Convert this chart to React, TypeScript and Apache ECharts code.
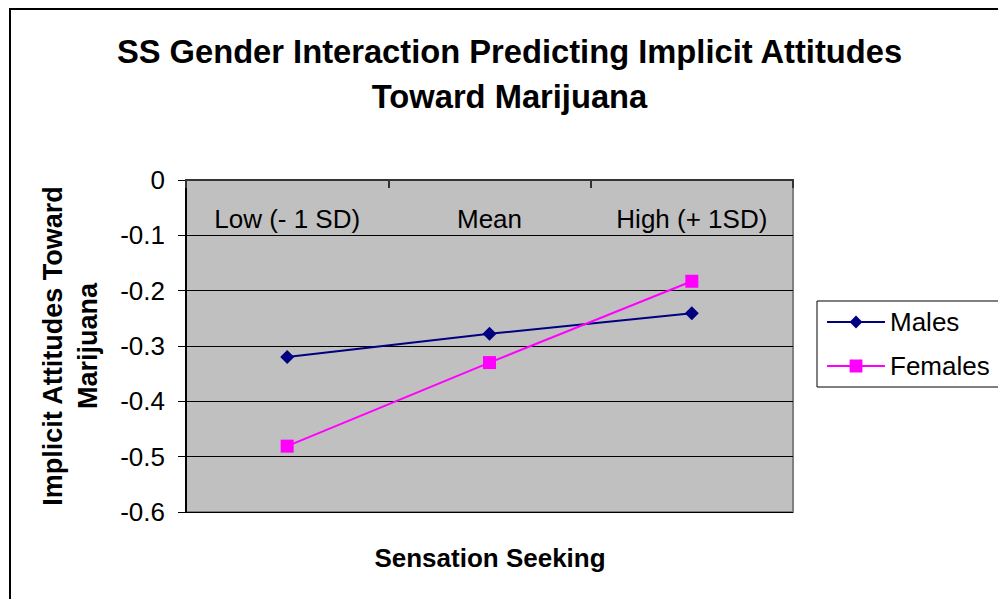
import React, { useEffect, useRef } from "react";
import * as echarts from "echarts";

const titleText = "SS Gender Interaction Predicting Implicit Attitudes\nToward Marijuana";
const categories = ["Low (- 1 SD)", "Mean", "High (+ 1SD)"];
const malesValues = [-0.320, -0.278, -0.241];
const femalesValues = [-0.481, -0.330, -0.183];
const yMin = -0.6;
const yMax = 0;
const yInterval = 0.1;
const xAxisTitle = "Sensation Seeking";
const yAxisTitle = "Implicit Attitudes Toward\nMarijuana";

const FONT = "'Liberation Sans', Arial, sans-serif";

export default function App() {
  const ref = useRef<HTMLDivElement>(null);
  useEffect(() => {
    if (!ref.current) return;
    const chart = echarts.init(ref.current, undefined, { renderer: "svg" });
    chart.setOption({
      animation: false,
      backgroundColor: "#ffffff",
      textStyle: { fontFamily: FONT },
      title: {
        text: titleText,
        left: 509.5,
        top: 29,
        textAlign: "center",
        padding: 0,
        textStyle: {
          fontFamily: FONT,
          fontSize: 32.7,
          fontWeight: "bold",
          color: "#000",
          lineHeight: 45,
        },
      },
      legend: {
        orient: "vertical",
        left: 817,
        top: 301,
        padding: [8, 60, 8, 9],
        borderColor: "#000",
        borderWidth: 1,
        backgroundColor: "#fff",
        itemWidth: 58,
        itemHeight: 16,
        itemGap: 18,
        textStyle: { fontFamily: FONT, fontSize: 26, color: "#000", lineHeight: 26 },
        data: ["Males", "Females"],
      },
      grid: {
        left: 186,
        top: 180,
        width: 607,
        height: 332,
        show: true,
        backgroundColor: "#C0C0C0",
        borderColor: "#808080",
        borderWidth: 2,
        containLabel: false,
      },
      xAxis: {
        type: "category",
        position: "top",
        data: categories,
        boundaryGap: true,
        axisLine: { show: true, onZero: false, lineStyle: { color: "#333", width: 2 } },
        axisTick: { show: true, inside: true, length: 8, lineStyle: { color: "#333", width: 2 } },
        axisLabel: {
          inside: true,
          margin: 26,
          fontFamily: FONT,
          fontSize: 26,
          lineHeight: 26,
          color: "#000",
        },
        splitLine: { show: false },
      },
      yAxis: {
        type: "value",
        min: yMin,
        max: yMax,
        interval: yInterval,
        axisLine: { show: true, lineStyle: { color: "#000", width: 2 } },
        axisTick: { show: true, length: 8, lineStyle: { color: "#000", width: 1 } },
        axisLabel: {
          margin: 21,
          fontFamily: FONT,
          fontSize: 26,
          color: "#000",
          formatter: (v: number) => (Math.abs(v) < 1e-9 ? "0" : String(Math.round(v * 10) / 10)),
        },
        splitLine: { show: true, lineStyle: { color: "#000", width: 1 } },
      },
      graphic: [
        {
          type: "rect",
          z: -10,
          silent: true,
          shape: { x: 10, y: 9, width: 1400, height: 900 },
          style: { fill: "none", stroke: "#000", lineWidth: 2 },
        },
        {
          type: "text",
          x: 70.5,
          y: 346,
          rotation: Math.PI / 2,
          style: {
            text: yAxisTitle,
            fontFamily: FONT,
            fontSize: 27,
            fontWeight: "bold",
            lineHeight: 35,
            fill: "#000",
            textAlign: "center",
            textVerticalAlign: "middle",
          },
        },
        {
          type: "text",
          x: 490,
          y: 557.5,
          style: {
            text: xAxisTitle,
            fontFamily: FONT,
            fontSize: 26,
            fontWeight: "bold",
            fill: "#000",
            textAlign: "center",
            textVerticalAlign: "middle",
          },
        },
      ],
      series: [
        {
          name: "Males",
          type: "line",
          data: malesValues,
          symbol: "diamond",
          symbolSize: 14,
          lineStyle: { color: "#000080", width: 2 },
          itemStyle: { color: "#000080" },
        },
        {
          name: "Females",
          type: "line",
          data: femalesValues,
          symbol: "rect",
          symbolSize: 13,
          lineStyle: { color: "#FF00FF", width: 2 },
          itemStyle: { color: "#FF00FF" },
        },
      ],
    });
    return () => chart.dispose();
  }, []);
  return (
    <div
      ref={ref}
      style={{ position: "fixed", left: 0, top: 0, width: 998, height: 599 }}
    />
  );
}
